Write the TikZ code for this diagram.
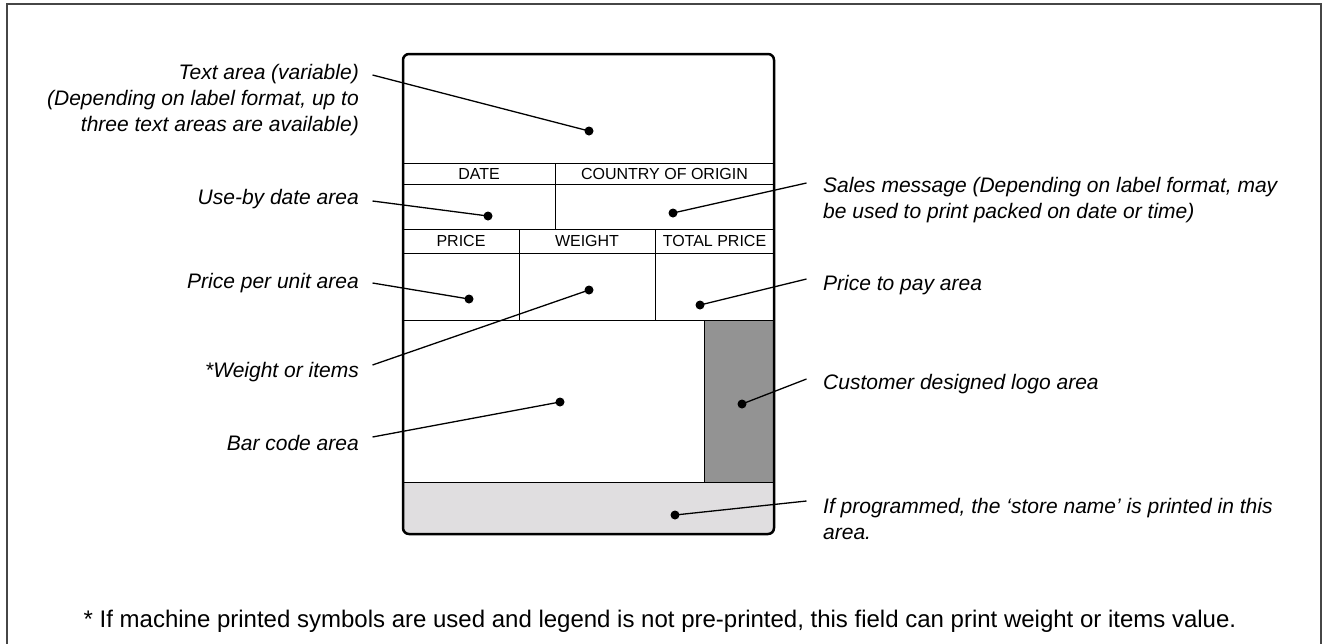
\documentclass[tikz,border=0pt]{standalone}
\usepackage{fontspec}
\setmainfont{Liberation Sans}
\definecolor{logogray}{RGB}{147,147,147}
\definecolor{storegray}{RGB}{224,222,224}
\definecolor{framegray}{RGB}{70,70,70}
\begin{document}
\begin{tikzpicture}[x=1pt,y=-1pt,
  lbl/.style={font=\fontsize{21}{26}\selectfont\itshape, inner sep=0pt},
  lbll/.style={lbl, anchor=east, align=right},
  lblr/.style={lbl, anchor=west, align=left},
  cell/.style={font=\fontsize{16}{18}\selectfont, inner sep=0pt},
  dot/.style={circle, fill=black, inner sep=0pt, minimum size=9pt},
  leader/.style={line width=1.3pt, black},
  thin/.style={line width=1pt, black}]
\useasboundingbox (0,0) rectangle (1322,643);
% outer frame
\draw[line width=2pt, framegray] (7,4) rectangle (1321,700);
% fills
\begin{scope}
  \clip[rounded corners=6pt] (403,54) rectangle (774,534);
  \fill[storegray] (403,482) rectangle (774,534);
  \fill[logogray] (704,320) rectangle (774,482);
\end{scope}
% inner grid
\draw[thin] (403,163) -- (774,163);
\draw[thin] (403,184) -- (774,184);
\draw[thin] (555,163) -- (555,229);
\draw[thin] (403,229) -- (774,229);
\draw[thin] (403,253) -- (774,253);
\draw[thin] (519,229) -- (519,320);
\draw[thin] (655,229) -- (655,320);
\draw[thin] (403,320) -- (774,320);
\draw[thin] (704,320) -- (704,482);
\draw[thin] (403,482) -- (774,482);
% outer label box
\draw[line width=2.5pt, rounded corners=6pt] (403,54) rectangle (774,534);
% cell headers
\node[cell] (hdate) at (479,174) {DATE};
\node[cell] (hcountry) at (664.5,174) {COUNTRY OF ORIGIN};
\node[cell] (hprice) at (461,241) {PRICE};
\node[cell] (hweight) at (587,241) {WEIGHT};
\node[cell] (htotal) at (714.5,241) {TOTAL PRICE};
% dots
\node[dot] (dtext) at (589,131) {};
\node[dot] (duse) at (488,216) {};
\node[dot] (dppu) at (469,299) {};
\node[dot] (dweight) at (589,290) {};
\node[dot] (dsales) at (673,213) {};
\node[dot] (dpay) at (700,305) {};
\node[dot] (dbar) at (560,402) {};
\node[dot] (dlogo) at (742,404) {};
\node[dot] (dstore) at (675,515) {};
% left labels
\node[lbll] (ltext) at (359,100) {Text area (variable)\\(Depending on label format, up to\\three text areas are available)};
\node[lbll] (luse) at (359,199) {Use-by date area};
\node[lbll] (lppu) at (359,283) {Price per unit area};
\node[lbll] (lweight) at (359,372) {*Weight or items};
\node[lbll] (lbar) at (359,443) {Bar code area};
% right labels
\node[lblr] (lsales) at (823,200) {Sales message (Depending on label format, may\\be used to print packed on date or time)};
\node[lblr] (lpay) at (823,285) {Price to pay area};
\node[lblr] (llogo) at (823,384) {Customer designed logo area};
\node[lblr] (lstore) at (823,519) {If programmed, the ‘store name’ is printed in this\\area.};
% leader free ends
\coordinate (ctext) at (372.5,75);
\coordinate (cuse) at (372.5,201);
\coordinate (cppu) at (372.5,283);
\coordinate (cweight) at (372.5,365);
\coordinate (cbar) at (372.5,437);
\coordinate (csales) at (806.5,183);
\coordinate (cpay) at (806.5,279);
\coordinate (clogo) at (806.5,379);
\coordinate (cstore) at (806.5,501);
% leaders
\draw[leader] (ctext) -- (dtext.center);
\draw[leader] (cuse) -- (duse.center);
\draw[leader] (cppu) -- (dppu.center);
\draw[leader] (cweight) -- (dweight.center);
\draw[leader] (cbar) -- (dbar.center);
\draw[leader] (csales) -- (dsales.center);
\draw[leader] (cpay) -- (dpay.center);
\draw[leader] (clogo) -- (dlogo.center);
\draw[leader] (cstore) -- (dstore.center);
% footnote
\node[font=\fontsize{24}{28}\selectfont, inner sep=0pt, anchor=base] (foot) at (660,627) {* If machine printed symbols are used and legend is not pre-printed, this field can print weight or items value.};
\end{tikzpicture}
\end{document}
